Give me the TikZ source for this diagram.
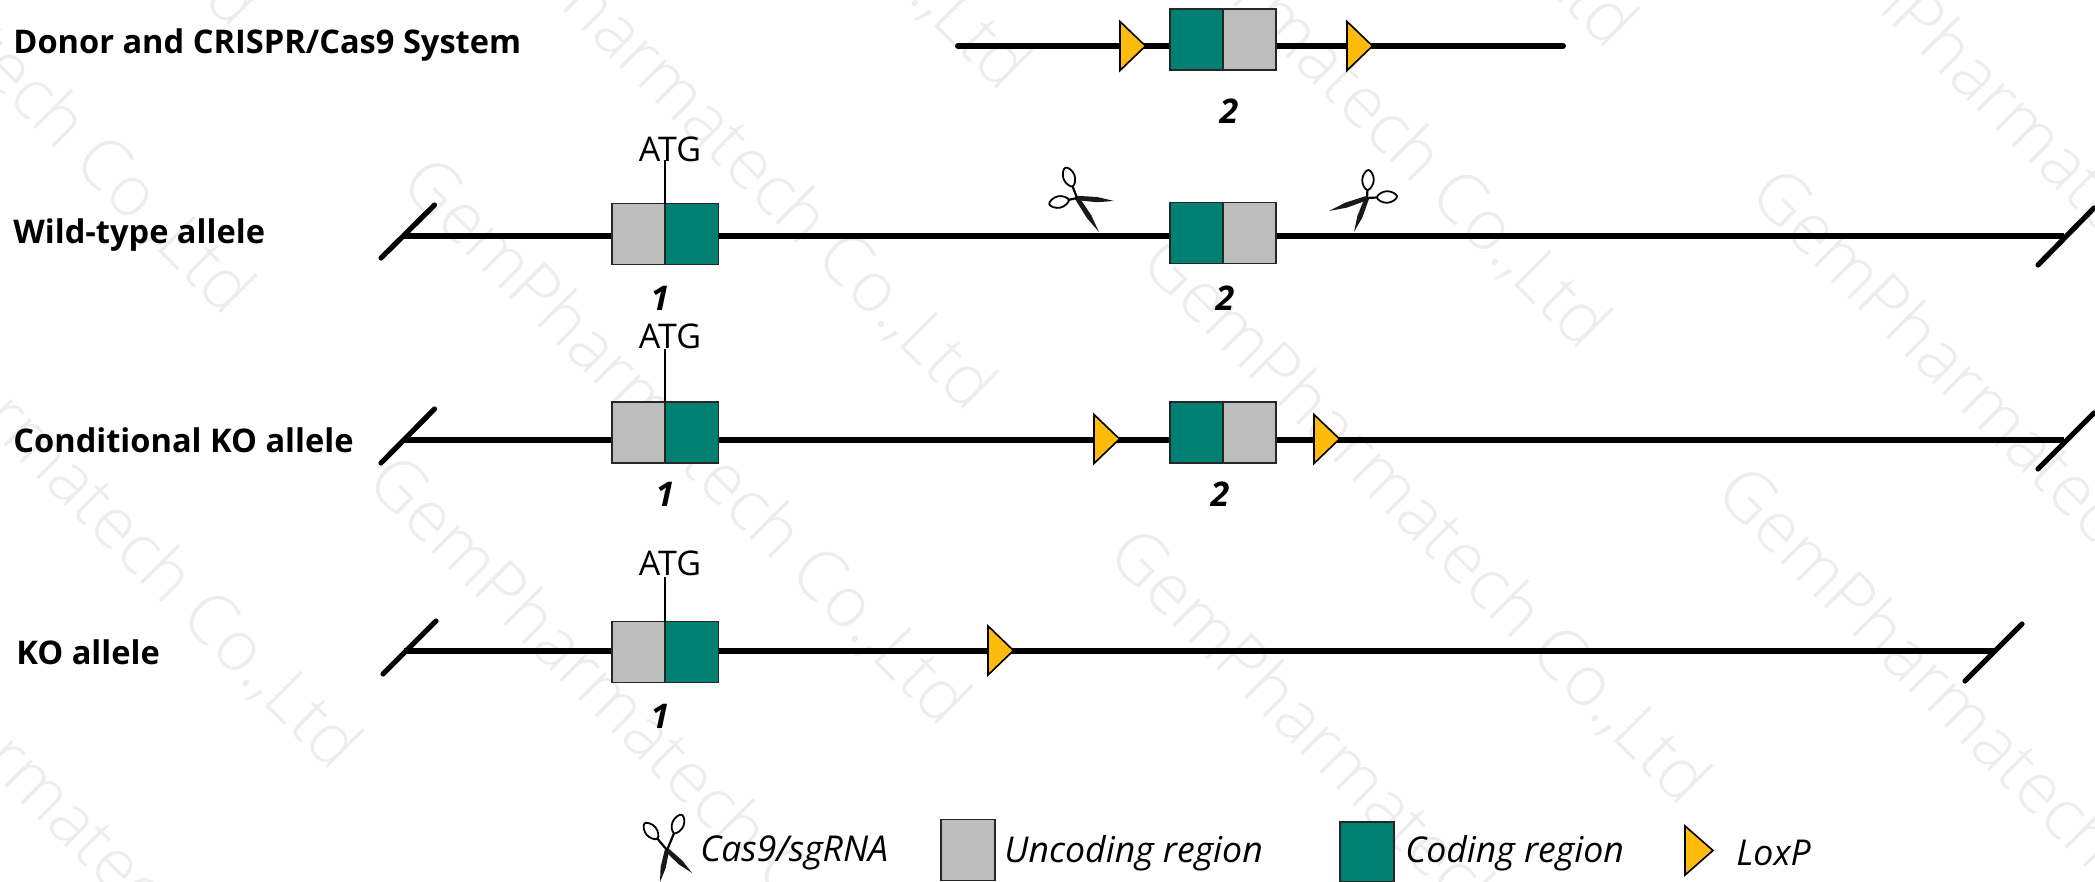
\documentclass[tikz,border=0pt]{standalone}
\usepackage{fontspec}
\setmainfont{Open Sans}
\usetikzlibrary{calc}
\definecolor{tealc}{HTML}{007F73}
\definecolor{grayc}{HTML}{BDBDBD}
\definecolor{yelc}{HTML}{FDBB0B}
\definecolor{wmc}{HTML}{EDEDED}
\tikzset{
  x=.5pt,y=-.5pt,
  chrom/.style={line width=3pt,black},
  slash/.style={line width=2.6pt,black,line cap=round},
  tick/.style={line width=.6pt,black},
  cellb/.style={draw=black!85,line width=.9pt,minimum width=26.5pt,minimum height=30.5pt,inner sep=0pt,outer sep=0pt},
  gcell/.style={cellb,fill=grayc},
  tcell/.style={cellb,fill=tealc},
  lab/.style={font=\fontsize{16.3}{19}\selectfont\bfseries,anchor=west,inner sep=0pt,black},
  num/.style={font=\fontsize{17}{20}\selectfont\bfseries\itshape,inner sep=0pt,black},
  atg/.style={font=\fontsize{17}{20}\selectfont,inner sep=0pt,black},
  leg/.style={font=\fontsize{17.8}{21}\selectfont\itshape,anchor=west,inner sep=0pt,black},
  wm/.style={font=\fontsize{35}{40}\selectfont,text=wmc,rotate=-45,anchor=base west,inner sep=0pt},
}
\newcommand{\loxp}[3]{% name, left x, line y
  \coordinate (#1) at (#2,#3);
  \filldraw[fill=yelc,draw=black,line width=.8pt,line join=miter] (#1) ++(0,-24.5) -- ++(25.5,24.5) -- ++(-25.5,24.5) -- cycle;
}
\newcommand{\halfsc}[3]{% pivot, loop centre, tip
  \fill[black!90] ($(#1)!1.1pt!90:(#3)$) -- ($(#1)!.55!(#3)!1.3pt!90:(#3)$) -- (#3)
     -- ($(#1)!.55!(#3)!1.3pt!-90:(#3)$) -- ($(#1)!1.1pt!-90:(#3)$) -- cycle;
  \draw[black,line width=1.1pt] (#1) -- ($(#2)!4.6pt!(#1)$);
  \coordinate (sa) at ($(#2)!5pt!(#1)$);
  \coordinate (sb) at ($(#2)!2.9pt!90:(#1)$);
  \coordinate (sc) at ($(#2)!5pt!180:(#1)$);
  \coordinate (sd) at ($(#2)!2.9pt!-90:(#1)$);
  \draw[black,line width=.9pt,fill=white] plot[smooth cycle,tension=.8] coordinates {(sa)(sb)(sc)(sd)};
}
\begin{document}
\begin{tikzpicture}
\useasboundingbox (0,0) rectangle (2095,882);
\clip (0,0) rectangle (2095,882);
\fill[white] (0,0) rectangle (2095,882);
% watermark
\foreach \x/\y [count=\i] in {398/186,364/484,424/-129,-318/-225,-211/230,-311/-512,458/-450,-210/571,
  1138/265,1105/557,1747/197,1713/495,1038/-191,1065/-492,1781/-86}
  \node[wm] (wm\i) at (\x,\y) {\fontspec{Open Sans Light}GemPharmatech Co.,Ltd};

% row labels
\node[lab] (t0) at (13,45) {Donor and CRISPR/Cas9 System};
\node[lab] (t1) at (13,235) {Wild-type allele};
\node[lab] (t2) at (13,440) {Conditional KO allele};
\node[lab] (t3) at (16,652) {KO allele};

% donor
\coordinate (d0) at (958,46); \coordinate (d1) at (1563,46);
\draw[chrom,line cap=round] (d0) -- (d1);
\node[tcell] (db1) at (1196.5,39.5) {};
\node[gcell] (db2) at (1249.5,39.5) {};
\loxp{dl1}{1120}{46}
\loxp{dl2}{1347}{46}
\node[num] (dn) at (1229,111) {2};

% wild type
\coordinate (w0) at (404,236); \coordinate (w1) at (2064,236);
\draw[chrom] (w0) -- (w1);
\coordinate (ws1) at (381,258); \coordinate (ws2) at (434.5,205);
\coordinate (ws3) at (2038,265); \coordinate (ws4) at (2094,208);
\draw[slash] (ws1) -- (ws2);
\draw[slash] (ws3) -- (ws4);
\node[gcell] (wa) at (638.5,234) {};
\node[tcell] (wb) at (692,234) {};
\node[tcell] (wc) at (1196.5,233) {};
\node[gcell] (wd) at (1249.5,233) {};
\node[atg] (wt) at (670,149) {ATG};
\coordinate (wtk) at (665,160);
\draw[tick] (wtk) -- (665,204);
\node[num] (wn1) at (660,298) {1};
\node[num] (wn2) at (1225,298) {2};
\coordinate (p1) at (1077,198); \coordinate (l1a) at (1069,177); \coordinate (t1a) at (1099,232);
\coordinate (l1b) at (1059,202); \coordinate (t1b) at (1114,201);
\halfsc{p1}{l1a}{t1a}
\halfsc{p1}{l1b}{t1b}
\coordinate (p2) at (1367,198); \coordinate (l2a) at (1368,180); \coordinate (t2a) at (1354,232);
\coordinate (l2b) at (1387,197); \coordinate (t2b) at (1329,211);
\halfsc{p2}{l2a}{t2a}
\halfsc{p2}{l2b}{t2b}

% conditional
\coordinate (c0) at (404,440); \coordinate (c1) at (2064,440);
\draw[chrom] (c0) -- (c1);
\coordinate (cs1) at (381,463); \coordinate (cs2) at (434.5,409);
\coordinate (cs3) at (2038,469); \coordinate (cs4) at (2094,413);
\draw[slash] (cs1) -- (cs2);
\draw[slash] (cs3) -- (cs4);
\node[gcell] (ca) at (638.5,432.5) {};
\node[tcell] (cb) at (692,432.5) {};
\node[tcell] (cc) at (1196.5,432.5) {};
\node[gcell] (cd) at (1249.5,432.5) {};
\node[atg] (ct) at (670,336) {ATG};
\coordinate (ctk) at (665,349);
\draw[tick] (ctk) -- (665,402);
\loxp{cl1}{1094}{439}
\loxp{cl2}{1314}{439}
\node[num] (cn1) at (665,494) {1};
\node[num] (cn2) at (1220,494) {2};

% KO
\coordinate (k0) at (404,651); \coordinate (k1) at (1994,651);
\draw[chrom] (k0) -- (k1);
\coordinate (ks1) at (383,674); \coordinate (ks2) at (436,621);
\coordinate (ks3) at (1965,681); \coordinate (ks4) at (2022,624);
\draw[slash] (ks1) -- (ks2);
\draw[slash] (ks3) -- (ks4);
\node[gcell] (ka) at (638.5,652) {};
\node[tcell] (kb) at (692,652) {};
\node[atg] (kt) at (670,563.5) {ATG};
\coordinate (ktk) at (665,576.5);
\draw[tick] (ktk) -- (665,621.5);
\loxp{kl}{988}{650.5}
\node[num] (kn1) at (660,716.5) {1};

% legend
\coordinate (p3) at (667,850); \coordinate (l3a) at (678,824); \coordinate (t3a) at (660,882);
\coordinate (l3b) at (651,831); \coordinate (t3b) at (692,873);
\halfsc{p3}{l3a}{t3a}
\halfsc{p3}{l3b}{t3b}
\node[leg] (lt1) at (700,853) {Cas9/sgRNA};
\node[gcell,minimum width=27pt] (lg) at (968,850) {};
\node[leg] (lt2) at (1004,853) {Uncoding region};
\node[tcell,minimum width=27pt,minimum height=30pt] (lc) at (1367,852) {};
\node[leg] (lt3) at (1405,853) {Coding region};
\coordinate (ly) at (1685,850.5);
\filldraw[fill=yelc,draw=black,line width=.8pt] (ly) ++(0,-24.5) -- ++(28,24.5) -- ++(-28,24.5) -- cycle;
\node[leg] (lt4) at (1736,853) {LoxP};
\end{tikzpicture}
\end{document}
